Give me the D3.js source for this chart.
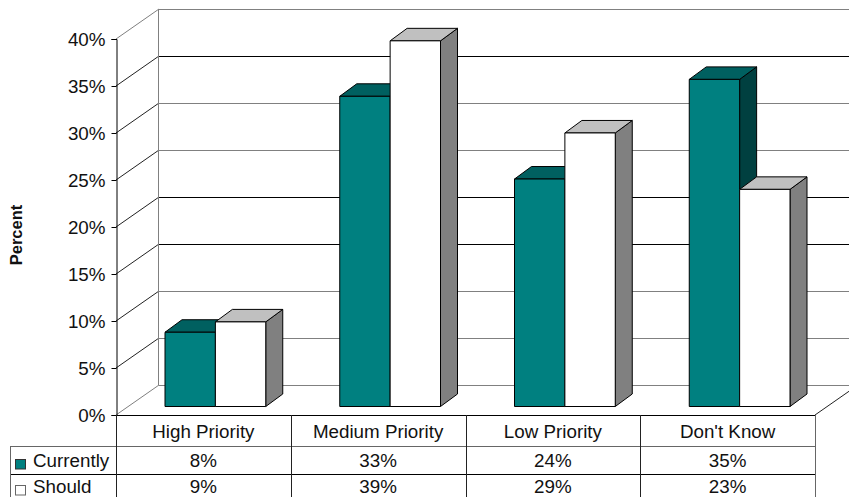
<!DOCTYPE html>
<html><head><meta charset="utf-8">
<script src="https://cdn.jsdelivr.net/npm/d3@7"></script>
<style>
html,body{margin:0;padding:0;background:#fff;overflow:hidden}
svg{display:block}
text{font-family:"Liberation Sans",Arial,sans-serif;fill:#111}
</style></head><body>
<svg id="c" width="849" height="497"></svg>
<script>
const categories = ["High Priority","Medium Priority","Low Priority","Don't Know"];
const seriesNames = ["Currently","Should"];
const currently = [7.9,33,24.2,34.8];
const should = [9,38.9,29.1,23.1];
const tickValues = [0,5,10,15,20,25,30,35,40];
const gridTones = ["#808080","#808080","#808080","#000","#000","#808080","#808080","#000","#808080"];
const faces = [
  {front:"#008080",top:"#006060",side:"#004040",swatch:"#008080"},
  {front:"#ffffff",top:"#c0c0c0",side:"#808080",swatch:"#ffffff"}
];
const W=849,H=497,FS=18.8;
const svg=d3.select("#c");
const x=d3.scaleBand().domain(categories).range([116,815]);
const y=d3.scaleLinear().domain([0,40]).range([415,39]);
const inner=d3.scaleBand().domain(seriesNames).range([49,x.bandwidth()-25]);
const wall={dx:43,dy:-30};
const barOff={dx:0,dy:-8.5};
const barDepth={dx:17,dy:-12.5};
const path=pts=>"M"+pts.map(p=>p.join(",")).join("L")+"Z";

// walls and gridlines
const g=svg.append("g");
tickValues.forEach((t,i)=>{
  const yy=Math.round(y(t));
  g.append("line").attr("x1",116).attr("y1",yy).attr("x2",116+wall.dx).attr("y2",yy+wall.dy)
    .attr("stroke",(t===40||t===0)?"#808080":"#222").attr("stroke-width",1);
  g.append("line").attr("x1",116+wall.dx).attr("y1",yy+wall.dy+.5).attr("x2",W).attr("y2",yy+wall.dy+.5)
    .attr("stroke",gridTones[i]).attr("stroke-width",1.2).attr("shape-rendering","crispEdges");
});
g.append("line").attr("x1",116+wall.dx-.5).attr("x2",116+wall.dx-.5).attr("y1",y(40)+wall.dy).attr("y2",y(0)+wall.dy)
  .attr("stroke","#808080").attr("stroke-width",1.2).attr("shape-rendering","crispEdges");
g.append("line").attr("x1",815).attr("y1",415).attr("x2",815+wall.dx).attr("y2",415+wall.dy).attr("stroke","#222");

// bars
const bars=svg.append("g");
categories.forEach((c,ci)=>{
  [currently,should].forEach((vals,si)=>{
    const f=faces[si], v=vals[ci];
    const x0=x(c)+inner(seriesNames[si])+barOff.dx, w=inner.bandwidth();
    const yb=y(0)+barOff.dy, yt=y(v)+barOff.dy;
    const d=barDepth;
    const b=bars.append("g").attr("stroke","#000").attr("stroke-width",1).attr("stroke-linejoin","round");
    b.append("path").attr("fill",f.side).attr("d",path([[x0+w,yt],[x0+w+d.dx,yt+d.dy],[x0+w+d.dx,yb+d.dy],[x0+w,yb]]));
    b.append("path").attr("fill",f.top).attr("d",path([[x0,yt],[x0+d.dx,yt+d.dy],[x0+w+d.dx,yt+d.dy],[x0+w,yt]]));
    b.append("rect").attr("fill",f.front).attr("x",x0).attr("y",yt).attr("width",w).attr("height",yb-yt);
  });
});

// y axis
const ax=svg.append("g").attr("transform","translate(116.5,0)")
  .call(d3.axisLeft(y).tickValues(tickValues).tickSize(5).tickPadding(6).tickFormat(d=>d+"%"));
ax.selectAll("text").attr("font-size",FS).style("font-family",'"Liberation Sans",Arial,sans-serif').attr("fill","#111");
ax.selectAll("line,path").attr("stroke","#000");

svg.append("text").attr("transform","translate(22,235) rotate(-90)").attr("text-anchor","middle")
  .attr("font-size",16.5).attr("font-weight","bold").text("Percent");

// data table
const rows=[446,474];
const t=svg.append("g").attr("shape-rendering","crispEdges");
t.append("line").attr("x1",116).attr("x2",815).attr("y1",415.5).attr("y2",415.5).attr("stroke","#000").attr("stroke-width",1.5);
t.append("line").attr("x1",10).attr("x2",815).attr("y1",rows[0]+.5).attr("y2",rows[0]+.5).attr("stroke","#666");
t.append("line").attr("x1",10).attr("x2",815).attr("y1",rows[1]+.5).attr("y2",rows[1]+.5).attr("stroke","#000");
t.append("line").attr("x1",10.5).attr("x2",10.5).attr("y1",rows[0]).attr("y2",H).attr("stroke","#666");
categories.forEach(c=>{
  t.append("line").attr("x1",Math.round(x(c))+.5).attr("x2",Math.round(x(c))+.5).attr("y1",415).attr("y2",H).attr("stroke","#222");
});
t.append("line").attr("x1",815.5).attr("x2",815.5).attr("y1",415).attr("y2",H).attr("stroke","#666");

const label=(txt,xx,yy,anchor)=>svg.append("text").attr("x",xx).attr("y",yy).attr("text-anchor",anchor||"middle")
  .attr("font-size",FS).text(txt);
categories.forEach((c,i)=>{
  const cx=x(c)+x.bandwidth()/2;
  label(c,cx,438);
  label(Math.round(currently[i])+"%",cx,467);
  label(Math.round(should[i])+"%",cx,492.5);
});
seriesNames.forEach((s,i)=>{
  const yy=[467,492.5][i];
  svg.append("rect").attr("x",15.5).attr("y",[459.5,485.5][i]).attr("width",10).attr("height",9.5)
    .attr("fill",faces[i].swatch).attr("stroke",i?"#666":"#333").attr("stroke-width",1);
  label(s,33,yy,"start");
});
</script>
</body></html>
